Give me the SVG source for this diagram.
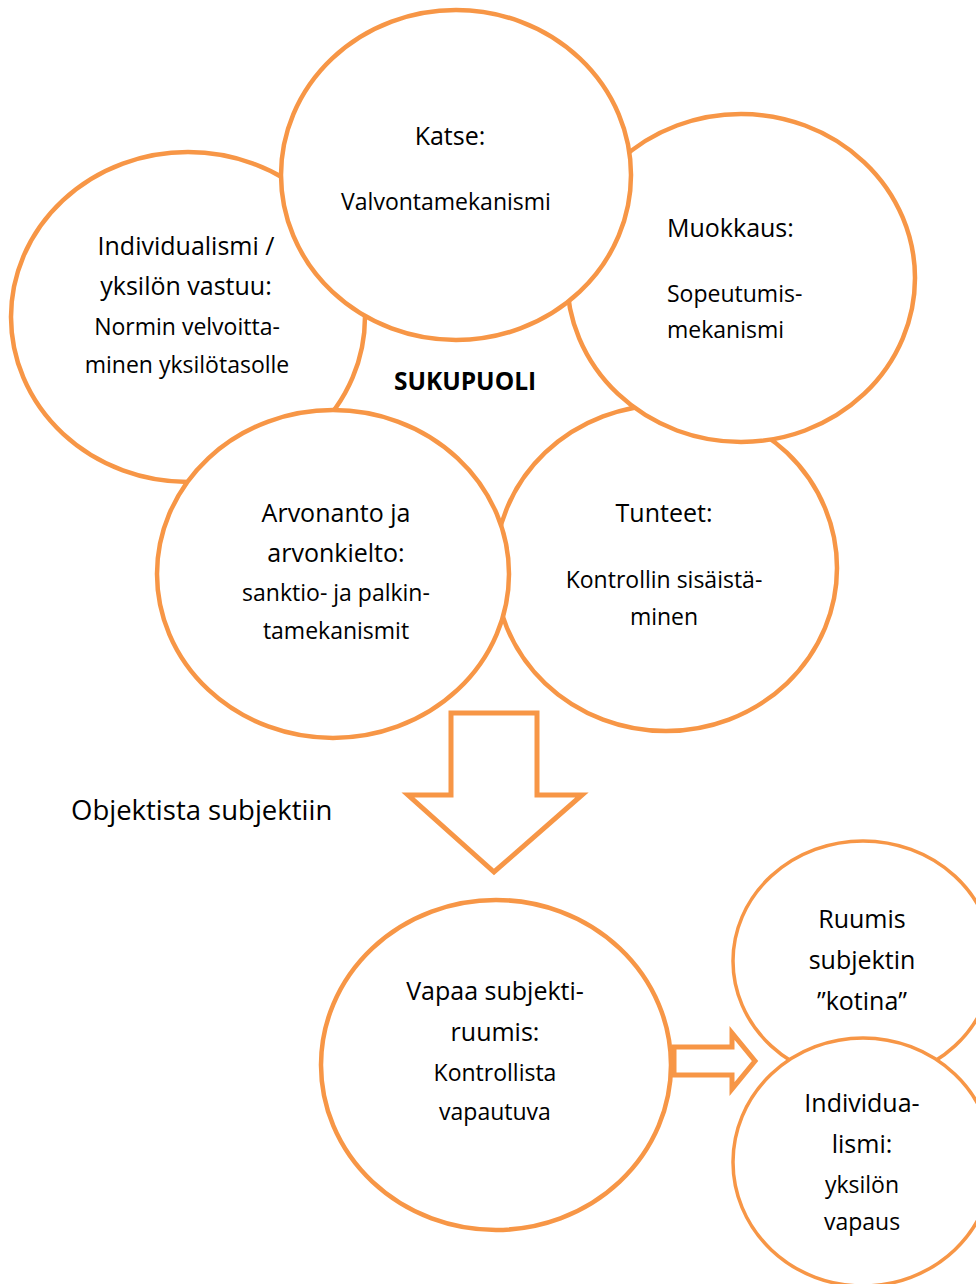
<svg xmlns="http://www.w3.org/2000/svg" width="976" height="1284" viewBox="0 0 976 1284">
<style>
.c{fill:#fff;stroke:#F79646;stroke-width:4.5}
.cs{fill:#fff;stroke:#F79646;stroke-width:3.5}
.a{fill:#fff;stroke:#F79646;stroke-width:5;stroke-linejoin:miter}
text{font-family:"Open Sans","Liberation Sans",sans-serif;fill:#000;text-anchor:middle}
.m{font-size:25px}
.s{font-size:23px}
.l{text-anchor:start}
.b{font-weight:bold;font-size:24.5px}
.o{font-size:27.5px}
</style>
<rect width="976" height="1284" fill="#fff"/>
<g id="connectors">
<path class="a" d="M451,713 H537 V795 H582 L494,872 L408,795 H451 Z"/>
<path class="a" d="M674,1047 H732 V1033 L755,1061 L732,1089 V1075 H674 Z"/>
</g>
<g id="tunteet">
<ellipse class="c" cx="666" cy="568" rx="171" ry="163"/>
<text class="m" x="664" y="522">Tunteet:</text>
<text class="s" x="664" y="588">Kontrollin sisäistä-</text>
<text class="s" x="664" y="625">minen</text>
</g>
<g id="individualismi">
<ellipse class="c" cx="188" cy="317" rx="177" ry="165"/>
<text class="m" x="186" y="255">Individualismi /</text>
<text class="m" x="186" y="295">yksilön vastuu:</text>
<text class="s" x="187" y="335">Normin velvoitta-</text>
<text class="s" x="187" y="373">minen yksilötasolle</text>
</g>
<g id="muokkaus">
<ellipse class="c" cx="741" cy="278" rx="174" ry="164"/>
<text class="m l" x="667" y="237">Muokkaus:</text>
<text class="s l" x="667" y="302">Sopeutumis-</text>
<text class="s l" x="667" y="338">mekanismi</text>
</g>
<g id="arvonanto">
<ellipse class="c" cx="333" cy="574" rx="176" ry="164"/>
<text class="m" x="336" y="522">Arvonanto ja</text>
<text class="m" x="336" y="562">arvonkielto:</text>
<text class="s" x="336" y="601">sanktio- ja palkin-</text>
<text class="s" x="336" y="639">tamekanismit</text>
</g>
<g id="katse">
<ellipse class="c" cx="456" cy="175" rx="175" ry="165"/>
<text class="m" x="450" y="145">Katse:</text>
<text class="s" x="446" y="210">Valvontamekanismi</text>
</g>
<g id="sukupuoli">
<text class="b" x="465" y="390">SUKUPUOLI</text>
</g>
<g id="objektista">
<text class="o l" x="71" y="820">Objektista subjektiin</text>
</g>
<g id="vapaa">
<ellipse class="c" cx="496" cy="1065" rx="175" ry="165"/>
<text class="m" x="495" y="1000">Vapaa subjekti-</text>
<text class="m" x="495" y="1041">ruumis:</text>
<text class="s" x="495" y="1081">Kontrollista</text>
<text class="s" x="495" y="1120">vapautuva</text>
</g>
<g id="ruumis">
<ellipse class="cs" cx="863" cy="961" rx="130" ry="120"/>
<text class="m" x="862" y="928">Ruumis</text>
<text class="m" x="862" y="969">subjektin</text>
<text class="m" x="862" y="1010">”kotina”</text>
</g>
<g id="individua">
<ellipse class="cs" cx="863" cy="1162" rx="130" ry="124"/>
<text class="m" x="862" y="1112">Individua-</text>
<text class="m" x="862" y="1153">lismi:</text>
<text class="s" x="862" y="1193">yksilön</text>
<text class="s" x="862" y="1230">vapaus</text>
</g>
</svg>
